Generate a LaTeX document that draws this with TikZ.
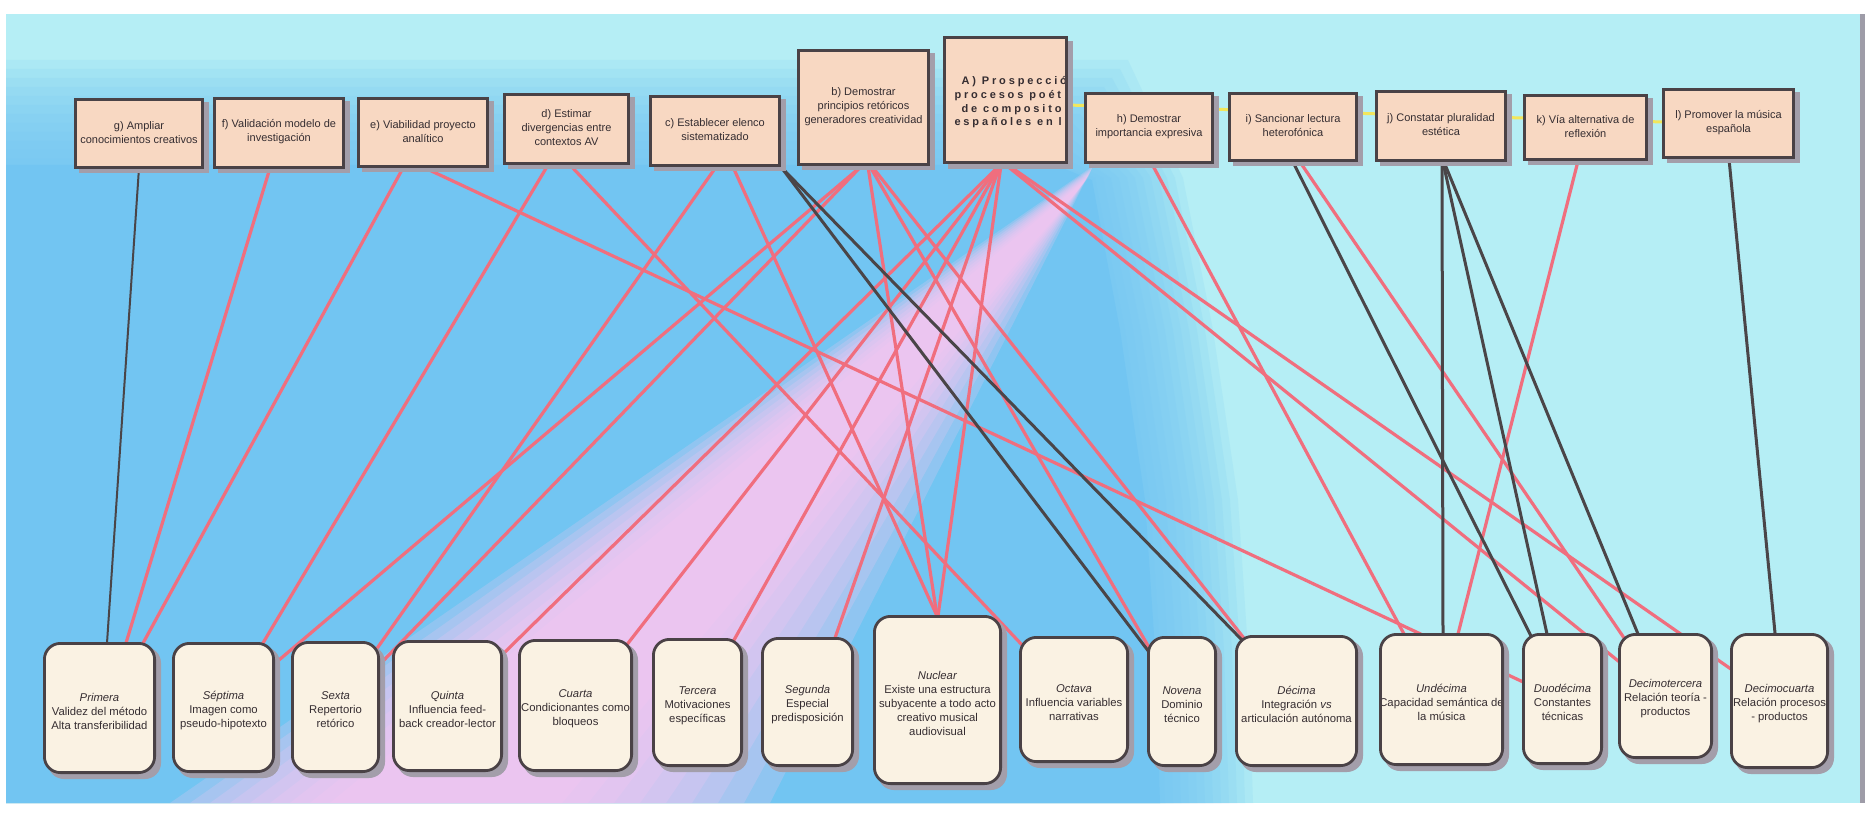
\documentclass[tikz,border=0pt]{standalone}
\usepackage{fontspec}
\setmainfont{Liberation Sans}
\usetikzlibrary{calc}
\pgfdeclarelayer{bg}
\pgfdeclarelayer{lines}
\pgfsetlayers{bg,lines,main}
\definecolor{cyanbg}{HTML}{B5EEF5}
\definecolor{bluebg}{HTML}{72C5F2}
\definecolor{beam}{HTML}{FBC8F0}
\definecolor{peach}{HTML}{F8D8C2}
\definecolor{cream}{HTML}{FAF2E3}
\definecolor{edge}{HTML}{4A4246}
\definecolor{shadec}{HTML}{A39EAA}
\definecolor{pinkln}{HTML}{F06E7E}
\definecolor{darkln}{HTML}{4A4548}
\definecolor{yel}{HTML}{F2E65C}
\definecolor{ink}{HTML}{352D31}
\definecolor{barc}{HTML}{9E9CA8}
\tikzset{
 topbox/.style={draw=edge, line width=3pt, fill=peach, inner sep=0pt, outer sep=0pt},
 botbox/.style={draw=edge, line width=2.8pt, fill=cream, rounded corners=16pt, inner sep=0pt, outer sep=0pt},
 toptext/.style={font=\fontsize{11}{14}\selectfont, align=center, text=ink, inner sep=0pt},
 bottext/.style={font=\fontsize{11.3}{14}\selectfont, align=center, text=ink, inner sep=0pt},
 atext/.style={font=\fontsize{11}{13.6}\selectfont\bfseries\addfontfeatures{LetterSpace=26}, align=left, text=ink, inner sep=0pt},
 pinkl/.style={draw=pinkln, line width=3.2pt, shorten <=-6pt, shorten >=-6pt},
 darkl/.style={draw=darkln, line width=3pt, shorten <=-6pt, shorten >=-6pt},
 yell/.style={draw=yel, line width=3pt}
}
\newcommand{\TopBox}[6]{%
  \fill[shadec] ({#2+5},{#3+4}) rectangle ({#4+5},{#5+4});
  \node[topbox, minimum width={#4-#2-3}, minimum height={#5-#3-3},
    path picture={\node[toptext] (#1-t) at ($(path picture bounding box.center)+(0,-1)$) {#6};}]
    (#1) at ({(#2+#4)/2},{(#3+#5)/2}) {};}
\newcommand{\BotBox}[7]{%
  \fill[shadec, rounded corners=16pt] ({#2+5},{#3+5}) rectangle ({#4+5},{#5+5});
  \node[botbox, minimum width={#4-#2-2.8}, minimum height={#5-#3-2.8},
    path picture={\node[bottext] (#1-t) at ($(path picture bounding box.center)+(0,3)$) {\textit{#6}\\#7};}]
    (#1) at ({(#2+#4)/2},{(#3+#5)/2}) {};}
\begin{document}
\begin{tikzpicture}[x=1pt,y=-1pt]
\useasboundingbox (0,0) rectangle (1871,818);
% ---------- top boxes
\TopBox{g}{74}{98}{204}{169}{g) Ampliar\\conocimientos creativos}
\TopBox{f}{213}{97}{345}{169}{f) Validación modelo de\\investigación}
\TopBox{e}{357}{97}{489}{168}{e) Viabilidad proyecto\\analítico}
\TopBox{d}{503}{93}{630}{165}{d) Estimar\\divergencias entre\\contextos AV}
\TopBox{c}{649}{95}{781}{167}{c) Establecer elenco\\sistematizado}
\TopBox{b}{797}{49}{930}{166}{b) Demostrar\\principios retóricos\\generadores creatividad}
\fill[shadec] (948,41) rectangle (1073,169);
\node[topbox, minimum width=122, minimum height=125,
  path picture={\node[atext, anchor=west] (A-t) at ($(path picture bounding box.west)+(10,2)$)
  {\hspace*{7pt}A) Prospección\\procesos poét\\\hspace*{7pt}de compositor\\españoles en l};}]
  (A) at (1005.5,100.5) {};
\TopBox{h}{1084}{92}{1214}{164}{h) Demostrar\\importancia expresiva}
\TopBox{i}{1228}{92}{1358}{162}{i) Sancionar lectura\\heterofónica}
\TopBox{j}{1375}{90}{1507}{162}{j) Constatar pluralidad\\estética}
\TopBox{k}{1523}{94}{1648}{161}{k) Vía alternativa de\\reflexión}
\TopBox{l}{1662}{88}{1795}{159}{l) Promover la música\\española}
% ---------- bottom boxes
\BotBox{prim}{43}{642}{156}{774}{Primera}{Validez del método\\Alta transferibilidad}
\BotBox{sept}{172}{642}{275}{773}{Séptima}{Imagen como\\pseudo-hipotexto}
\BotBox{sext}{291}{641}{380}{773}{Sexta}{Repertorio\\retórico}
\BotBox{quin}{392}{640}{503}{772}{Quinta}{Influencia feed-\\back creador-lector}
\BotBox{cuar}{518}{639}{633}{772}{Cuarta}{Condicionantes como\\bloqueos}
\BotBox{terc}{652}{638}{743}{767}{Tercera}{Motivaciones\\específicas}
\BotBox{segu}{761}{637}{854}{767}{Segunda}{Especial\\predisposición}
\BotBox{nucl}{873}{615}{1002}{785}{Nuclear}{Existe una estructura\\subyacente a todo acto\\creativo musical\\audiovisual}
\BotBox{octa}{1019}{636}{1129}{763}{Octava}{Influencia variables\\narrativas}
\BotBox{nove}{1147}{636}{1217}{767}{Novena}{Dominio\\técnico}
\BotBox{deci}{1235}{635}{1358}{767}{Décima}{Integración \textit{vs}\\articulación autónoma}
\BotBox{unde}{1379}{633}{1504}{766}{Undécima}{Capacidad semántica de\\la música}
\BotBox{duod}{1522}{633}{1603}{765}{Duodécima}{Constantes\\técnicas}
\BotBox{dec13}{1618}{633}{1713}{759}{Decimotercera}{Relación teoría -\\productos}
\BotBox{dec14}{1730}{633}{1829}{769}{Decimocuarta}{Relación procesos\\- productos}
% ---------- background
\begin{pgfonlayer}{bg}
 \fill[white] (0,0) rectangle (1871,818);
 \fill[cyanbg] (6,14) rectangle (1862,803);
 \begin{scope}
  \clip (6,14) rectangle (1862,803);
  \foreach \s in {0,...,11} {
    \pgfmathsetmacro{\t}{60+9*\s}
    \pgfmathsetmacro{\o}{(11-\s)*8}
    \fill[bluebg, opacity=0.14] (6,\t) -- ({1040+\o},\t) -- ({1095+\o},178) -- ({1125+\o},330)
      -- ({1150+\o},500) -- ({1160+\o},650) -- ({1165+\o},803) -- (6,803) -- cycle;
  }
  \fill[bluebg] (6,165) -- (1055,165) -- (1092,180) -- (1120,330) -- (1145,500) -- (1155,650) -- (1160,803) -- (6,803) -- cycle;
  \foreach \s in {0,...,8} {
    \fill[beam, opacity=0.22] ({1093-0.6*\s},{166+1.5*\s}) -- ({170+20*\s},803) -- ({770-26*\s},803) -- cycle;
  }
 \end{scope}
 \fill[barc] (1860,14) rectangle (1865,803);
\end{pgfonlayer}
% ---------- connectors
\begin{pgfonlayer}{lines}
 \draw[yell] ($(A.east)+(0,4.5)$) -- ($(l.west)+(0,-1.5)$);
 \draw[darkl, line width=2pt] ($(g)+(0,34.5)$) -- ($(prim)+(7.5,-65)$);
 \draw[pinkl] ($(f)+(-9,35)$) -- ($(prim)+(26.5,-65)$);
 \draw[pinkl] ($(e)+(-20,35.5)$) -- ($(prim)+(42.5,-63)$);
 \draw[pinkl] ($(e)+(2,35.5)$) -- ($(duod)+(-41.5,-18)$);
 \draw[pinkl] ($(d)+(-18.5,36)$) -- ($(sept)+(39.5,-64.5)$);
 \draw[pinkl] ($(d)+(3.5,36)$) -- ($(octa)+(-51,-53.5)$);
 \draw[pinkl] ($(c)+(1,36)$) -- ($(sext)+(42.5,-60)$);
 \draw[pinkl] ($(c)+(18,36)$) -- ($(nucl)+(-0.5,-84)$);
 \draw[pinkl] ($(b)+(-2.5,59)$) -- ($(sept)+(55.5,-47.5)$);
 \draw[pinkl] ($(b)+(-2.5,59)$) -- ($(sext)+(49.5,-48)$);
 \draw[pinkl] ($(b)+(4.5,59)$) -- ($(nucl)+(-0.5,-84)$);
 \draw[pinkl] ($(b)+(6.5,59)$) -- ($(nove)+(-35,-57.5)$);
 \draw[pinkl] ($(b)+(8.5,59)$) -- ($(deci)+(-53.5,-64)$);
 \draw[pinkl] ($(A)+(-5.5,64.5)$) -- ($(quin)+(57.5,-54)$);
 \draw[pinkl] ($(A)+(-5.5,64.5)$) -- ($(cuar)+(53.5,-63.5)$);
 \draw[pinkl] ($(A)+(-5.5,64.5)$) -- ($(terc)+(36.5,-62.5)$);
 \draw[pinkl] ($(A)+(-5.5,64.5)$) -- ($(segu)+(27.5,-64)$);
 \draw[pinkl] ($(A)+(-4.5,64.5)$) -- ($(nucl)+(0.5,-84)$);
 \draw[pinkl] ($(A)+(0.5,64.5)$) -- ($(dec13)+(-48.5,-36)$);
 \draw[pinkl] ($(A)+(2.5,64.5)$) -- ($(dec14)+(-51.5,-34)$);
 \draw[pinkl] ($(h)+(3,36)$) -- ($(unde)+(-37.5,-65.5)$);
 \draw[pinkl] ($(i)+(7,35)$) -- ($(dec13)+(-43.5,-61)$);
 \draw[pinkl] ($(k)+(-7.5,33.5)$) -- ($(unde)+(16.5,-65.5)$);
 \draw[darkl] ($(c)+(66,36)$) -- ($(nove)+(-36,-53.5)$);
 \draw[darkl] ($(c)+(66,36)$) -- ($(deci)+(-56.5,-63)$);
 \draw[darkl] ($(i)+(0,35)$) -- ($(duod)+(-32.5,-65)$);
 \draw[darkl] ($(j)+(1,36)$) -- ($(unde)+(1.5,-65.5)$);
 \draw[darkl] ($(j)+(2,36)$) -- ($(duod)+(-15.5,-65)$);
 \draw[darkl] ($(j)+(3,36)$) -- ($(dec13)+(-27.5,-62)$);
 \draw[darkl] ($(l)+(0.5,35.5)$) -- ($(dec14)+(-4.5,-68)$);
\end{pgfonlayer}
\end{tikzpicture}
\end{document}
